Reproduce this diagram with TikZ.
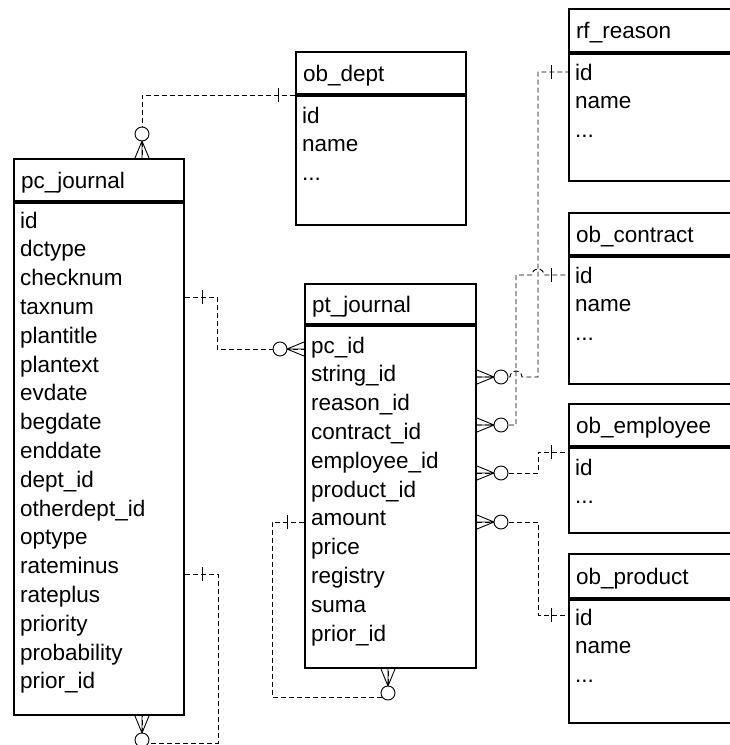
\documentclass[tikz,border=0pt]{standalone}
\usepackage{fontspec}
\setmainfont{Liberation Sans}
\usetikzlibrary{calc}

\newcommand{\etc}{...}
% crow's foot with open circle, drawn outward from a box edge
\newcommand{\manyend}[2]{%
  \begin{scope}[shift={(#1)}, rotate=#2]
    \draw[mk] (0,7) -- (17,0) -- (0,-7) (0,0) -- (17,0);
    \draw[mk, fill=white] (24,0) circle (7);
  \end{scope}}
% single bar for the "one" side
\newcommand{\oneend}[2]{%
  \begin{scope}[shift={(#1)}, rotate=#2]
    \draw[mk] (17,7) -- (17,-7);
  \end{scope}}

\begin{document}
\begin{tikzpicture}[
  x=1pt, y=1pt,
  font=\fontsize{22.5}{27}\selectfont,
  hdr/.style={draw, line width=2pt, fill=white, anchor=north west, align=left,
              inner xsep=7pt, inner ysep=0pt, text height=16pt, text depth=0pt},
  tbl/.style={draw, line width=2pt, fill=white, anchor=north west, inner sep=0pt},
  fld/.style={anchor=base west, inner sep=0pt},
  rel/.style={draw, line width=0.9pt, dash pattern=on 5pt off 3pt},
  mk/.style={line width=0.9pt, solid}
]
\useasboundingbox (0,0) rectangle (730,-745);
\clip (0,0) rectangle (730,-745);

% tables
\node[hdr, text width=156pt, minimum height=42pt] (pcj) at (13,-158) {pc\_journal};
\node[tbl, minimum width=170pt, minimum height=512pt] (pcj-b) at (pcj.south west) {};
\foreach \t [count=\i from 0] in {id, dctype, checknum, taxnum, plantitle, plantext,
    evdate, begdate, enddate, dept\_id, otherdept\_id, optype, rateminus, rateplus,
    priority, probability, prior\_id}
  \node[fld] (pc-\i) at (20,-228-28.8*\i) {\t};

\node[hdr, text width=157pt, minimum height=40pt] (ptj) at (304,-283) {pt\_journal};
\node[tbl, minimum width=171pt, minimum height=342pt] (ptj-b) at (ptj.south west) {};
\foreach \t [count=\i from 0] in {pc\_id, string\_id, reason\_id, contract\_id,
    employee\_id, product\_id, amount, price, registry, suma, prior\_id}
  \node[fld] (pt-\i) at (311,-353-28.8*\i) {\t};

\node[hdr, text width=156pt, minimum height=42pt] (dep) at (295,-51) {ob\_dept};
\node[tbl, minimum width=170pt, minimum height=129pt] (dep-b) at (dep.south west) {};
\foreach \t [count=\i from 0] in {id, name, \etc}
  \node[fld] (dp-\i) at (302,-123-28.8*\i) {\t};

\node[hdr, text width=166pt, minimum height=43pt] (rfr) at (568,-8) {rf\_reason};
\node[tbl, minimum width=180pt, minimum height=127pt] (rfr-b) at (rfr.south west) {};
\foreach \t [count=\i from 0] in {id, name, \etc}
  \node[fld] (rr-\i) at (575,-80-28.8*\i) {\t};

\node[hdr, text width=166pt, minimum height=42pt] (ctr) at (568,-212) {ob\_contract};
\node[tbl, minimum width=180pt, minimum height=127pt] (ctr-b) at (ctr.south west) {};
\foreach \t [count=\i from 0] in {id, name, \etc}
  \node[fld] (ct-\i) at (575,-283-28.8*\i) {\t};

\node[hdr, text width=166pt, minimum height=42pt] (emp) at (568,-403) {ob\_employee};
\node[tbl, minimum width=180pt, minimum height=85pt] (emp-b) at (emp.south west) {};
\foreach \t [count=\i from 0] in {id, \etc}
  \node[fld] (em-\i) at (575,-475-28.8*\i) {\t};

\node[hdr, text width=166pt, minimum height=44pt] (prd) at (568,-553) {ob\_product};
\node[tbl, minimum width=180pt, minimum height=123pt] (prd-b) at (prd.south west) {};
\foreach \t [count=\i from 0] in {id, name, \etc}
  \node[fld] (pr-\i) at (575,-625-28.8*\i) {\t};

% attachment points on the box edges
\coordinate (pcj-top) at (pcj.north -| 142,0);
\coordinate (pcj-bot) at (pcj-b.south -| 142,0);
\coordinate (pcj-r1)  at (pcj-b.east |- 0,-297);
\coordinate (pcj-r2)  at (pcj-b.east |- 0,-574);
\coordinate (ptj-l1)  at (ptj-b.west |- 0,-349);
\coordinate (ptj-l2)  at (ptj-b.west |- 0,-522);
\coordinate (ptj-bot) at (ptj-b.south -| 388,0);
\coordinate (ptj-r1)  at (ptj-b.east |- 0,-377);
\coordinate (ptj-r2)  at (ptj-b.east |- 0,-425);
\coordinate (ptj-r3)  at (ptj-b.east |- 0,-473);
\coordinate (ptj-r4)  at (ptj-b.east |- 0,-522);
\coordinate (dep-l)   at (dep.south west);
\coordinate (rfr-l)   at (rfr-b.west |- 0,-72);
\coordinate (ctr-l)   at (ctr-b.west |- 0,-275);
\coordinate (emp-l)   at (emp-b.west |- 0,-452);
\coordinate (prd-l)   at (prd-b.west |- 0,-615);

% relations
\draw[rel] (dep-l) -| (pcj-top);
\draw[rel] (pcj-r1) -- ++(32,0) |- (ptj-l1);
\draw[rel] (pcj-r2) -- ++(33,0) -- ++(0,-169) -| (pcj-bot);
\draw[rel] (ptj-l2) -- ++(-32,0) -- ++(0,-175) -| (ptj-bot);
\draw[rel] (ptj-r1) -- ++(33,0) arc[start angle=180, end angle=0, radius=6]
  -- ++(16,0) |- (rfr-l);
\draw[rel] (ptj-r2) -- ++(39,0) -- ++(0,150) -- ++(16,0)
  arc[start angle=180, end angle=0, radius=6] -- (ctr-l);
\draw[rel] (ptj-r3) -- ++(61,0) |- (emp-l);
\draw[rel] (ptj-r4) -- ++(61,0) |- (prd-l);

% cardinality marks
\manyend{pcj-top}{90}
\manyend{pcj-bot}{-90}
\manyend{ptj-l1}{180}
\manyend{ptj-bot}{-90}
\foreach \k in {1,...,4} {\manyend{ptj-r\k}{0}}
\oneend{dep-l}{180}
\oneend{pcj-r1}{0}
\oneend{pcj-r2}{0}
\oneend{ptj-l2}{180}
\oneend{rfr-l}{180}
\oneend{ctr-l}{180}
\oneend{emp-l}{180}
\oneend{prd-l}{180}
\end{tikzpicture}
\end{document}
